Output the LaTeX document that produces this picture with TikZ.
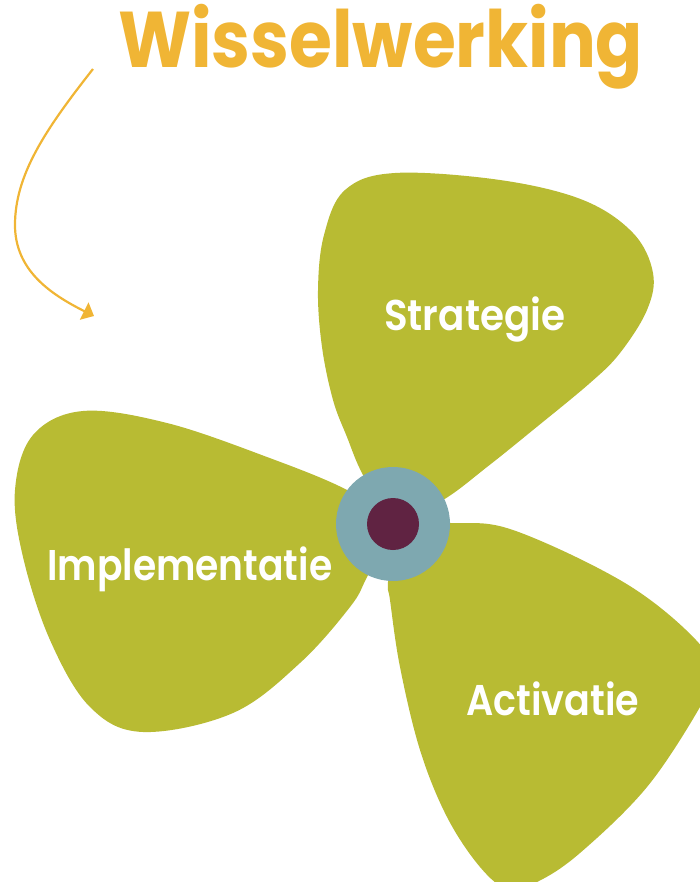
\documentclass[tikz,border=0pt]{standalone}
\usepackage{fontspec}
\setmainfont{Poppins}
\IfFontExistsTF{Poppins SemiBold}
  {\newfontfamily\labelfont{Poppins SemiBold}}
  {\newfontfamily\labelfont{Poppins}[UprightFont=*-Bold]}
\usetikzlibrary{arrows.meta}

\definecolor{blade}{HTML}{B8BB33}
\definecolor{hubring}{HTML}{7EA8B0}
\definecolor{hubcore}{HTML}{602342}
\definecolor{titleorange}{HTML}{F0B535}

\tikzset{
  bladeshape/.style={fill=blade, draw=none},
  bladelabel/.style={text=white, inner sep=0pt, anchor=base west,
    font=\fontsize{43}{46}\labelfont},
  flowarrow/.style={draw=titleorange, line width=2.2pt,
    -{Triangle[length=11pt,width=19pt]}},
}

\begin{document}
\begin{tikzpicture}[x=1pt,y=-1pt]
  \useasboundingbox (0,0) rectangle (700,882);

  % title
  \node[text=titleorange, inner sep=0pt, anchor=base west] (title) at (118,68)
    {\resizebox{525pt}{\height}{\fontsize{79}{82}\selectfont\bfseries Wisselwerking}};

  % curved pointer from the title down towards the propeller
  \coordinate (arrowstart) at (93,69);
  \coordinate (arrowbend) at (15,225);
  \coordinate (arrowend) at (94,316);
  \draw[flowarrow] (arrowstart) .. controls (45,130) and (15,175) .. (arrowbend)
    .. controls (15,270) and (50,294) .. (arrowend);

  \begin{scope}
    \clip (0,0) rectangle (700,882);
    % top blade
    \fill[bladeshape] plot[smooth cycle, tension=0.6] coordinates {
      (393,523) (363,475) (347,437) (333,400) (322,347) (318,290) (324,235)
      (345,190) (395,173) (500,180) (583,200) (633,233) (653,273) (647,310)
      (620,353) (590,383) (533,430) (487,467) (443,500)};
    % left blade
    \fill[bladeshape] plot[smooth cycle, tension=0.6] coordinates {
      (393,523) (347,490) (267,457) (167,423) (83,411) (33,435) (15,490)
      (23,557) (50,640) (90,707) (143,732) (233,713) (300,663) (350,607)
      (367,577)};
    % lower right blade
    \fill[bladeshape] plot[smooth cycle, tension=0.6] coordinates {
      (393,523) (451,523) (513,530) (625,583) (696,640) (712,675) (700,707)
      (647,787) (580,853) (537,882) (508,889) (480,867) (447,817) (420,750)
      (400,667) (390,600) (388,582)};
  \end{scope}

  % hub
  \node[circle, fill=hubring, minimum size=114pt, inner sep=0pt] (hub) at (393,524) {};
  \node[circle, fill=hubcore, minimum size=52pt, inner sep=0pt] (core) at (hub.center) {};

  % blade labels
  \node[bladelabel] (strategie) at (384,330) {\resizebox{181pt}{\height}{Strategie}};
  \node[bladelabel] (implementatie) at (47,580) {\resizebox{285pt}{\height}{Implementatie}};
  \node[bladelabel] (activatie) at (466,715) {\resizebox{173pt}{\height}{Activatie}};
\end{tikzpicture}
\end{document}
